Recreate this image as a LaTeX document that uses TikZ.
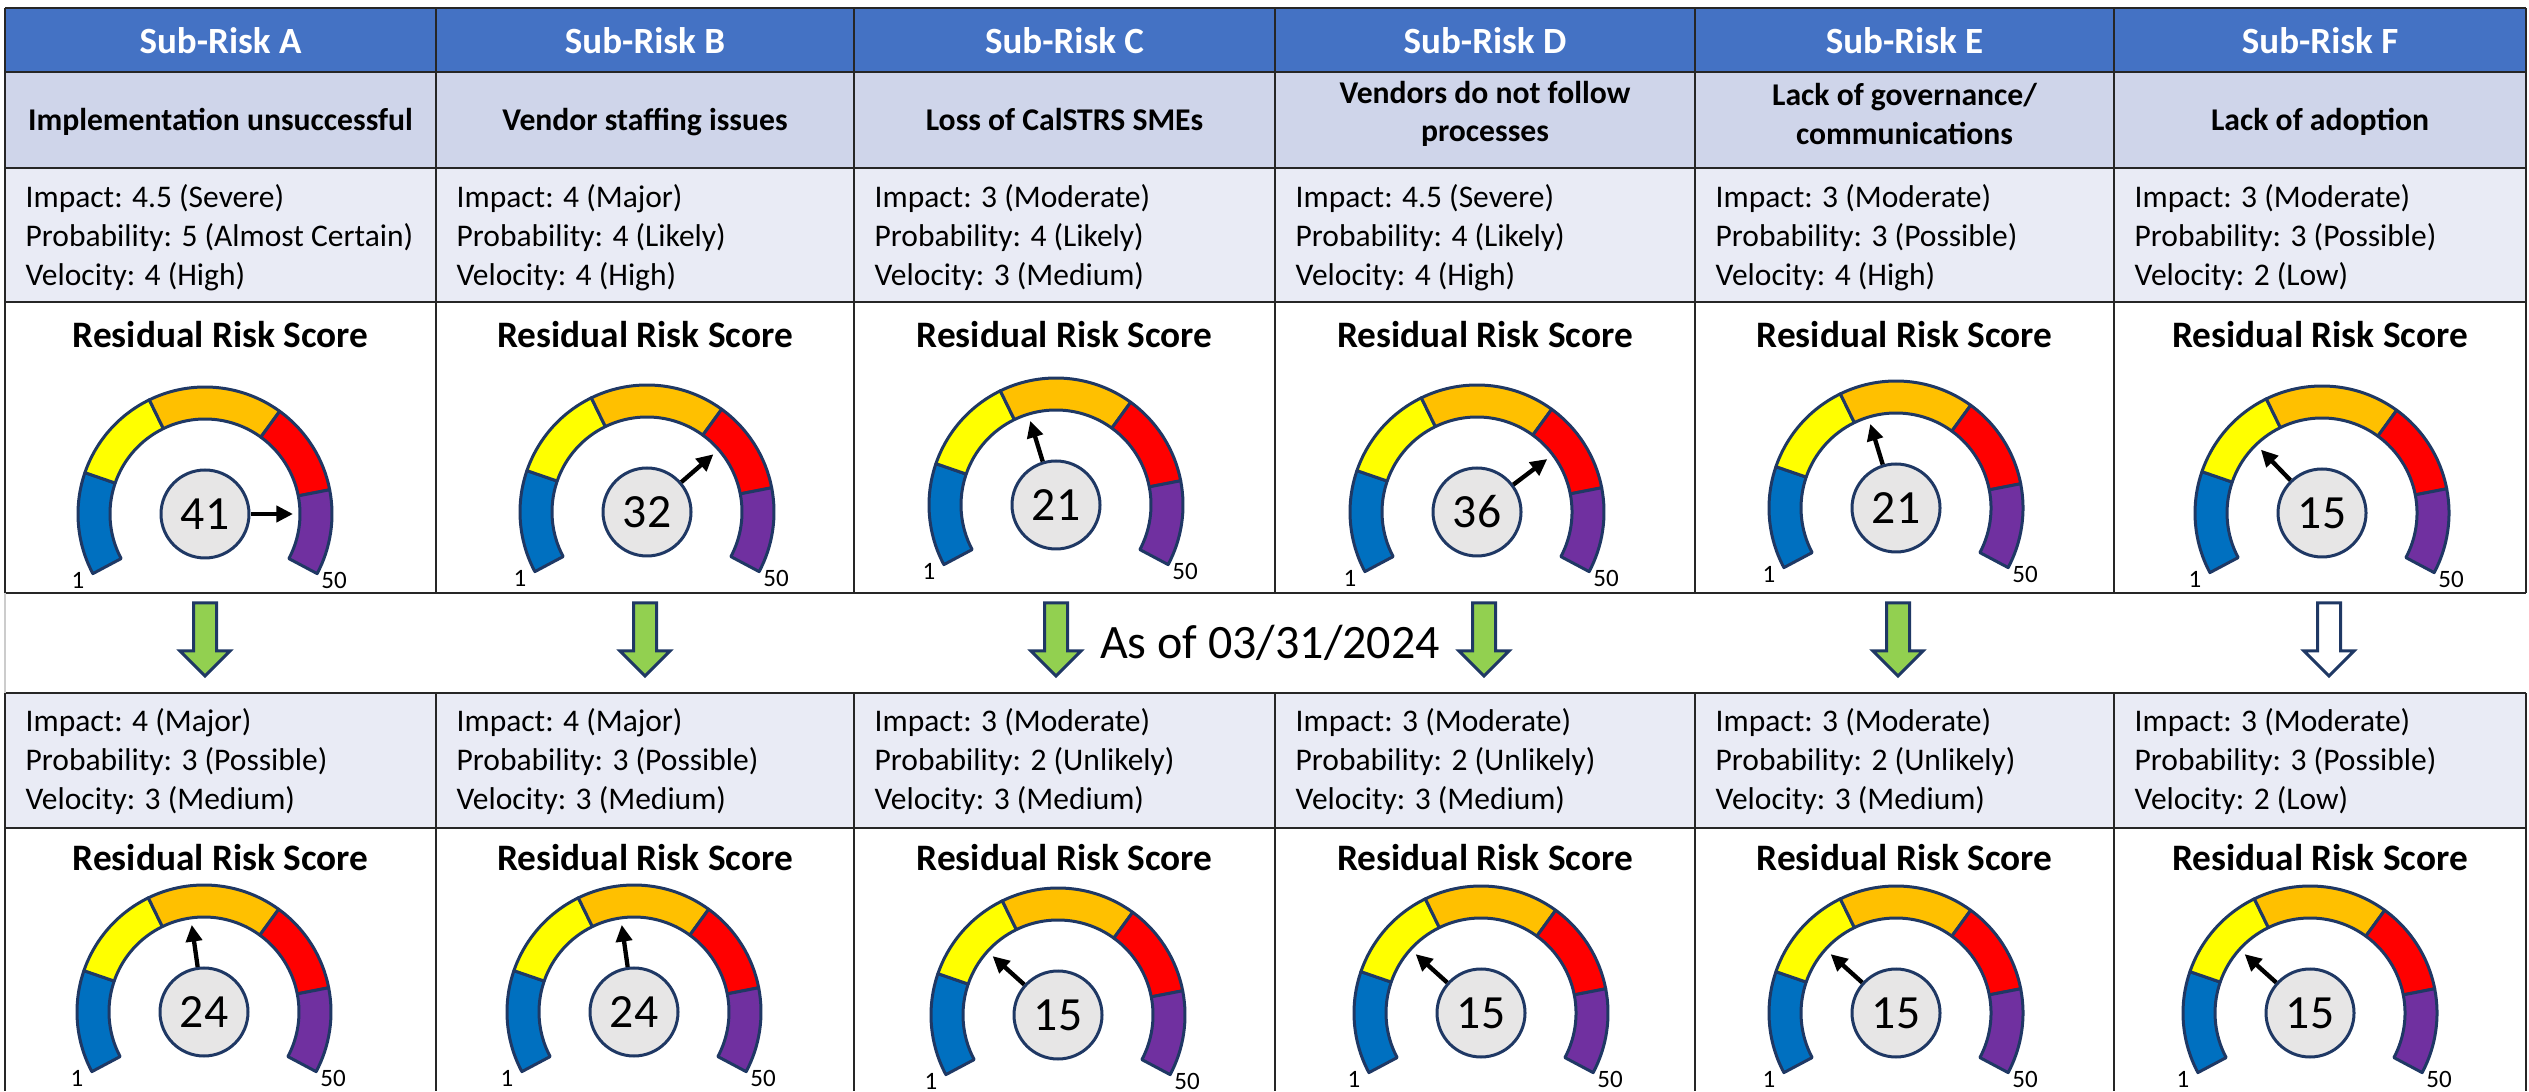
\documentclass[tikz,border=0pt]{standalone}
\usepackage{fontspec}
\setmainfont{Carlito}
\usetikzlibrary{arrows.meta}

\definecolor{hdrblue}{HTML}{4472C4}
\definecolor{subfill}{HTML}{CFD5EA}
\definecolor{infofill}{HTML}{E9EBF5}
\definecolor{gblue}{HTML}{0070C0}
\definecolor{gyellow}{HTML}{FFFF00}
\definecolor{gorange}{HTML}{FFC000}
\definecolor{gred}{HTML}{FF0000}
\definecolor{gpurple}{HTML}{7030A0}
\definecolor{navy}{HTML}{1F3864}
\definecolor{dialgray}{HTML}{E7E6E6}
\definecolor{arrowgreen}{HTML}{92D050}

\tikzset{
  gridline/.style={line width=0.6pt,draw=black!85},
  headtxt/.style={anchor=base,text=white,font=\fontsize{11.1}{13}\selectfont\bfseries,inner sep=0},
  subtxt/.style={align=center,font=\fontsize{9.5}{11.6}\selectfont\bfseries,inner sep=0},
  infotxt/.style={anchor=west,align=left,font=\fontsize{9.45}{11.7}\selectfont,inner sep=0},
  rrstitle/.style={anchor=base,font=\fontsize{11.2}{13}\selectfont\bfseries,inner sep=0},
  scoredial/.style={circle,draw=navy,fill=dialgray,line width=0.9pt,minimum size=26.4pt,inner sep=0,font=\fontsize{14.3}{16}\selectfont},
  endlabel/.style={font=\fontsize{7.5}{9}\selectfont,inner sep=0},
  needle/.style={line width=1.3pt,-{Triangle[length=5pt,width=4.8pt]}},
  ringseg/.style={draw=navy,line width=0.9pt,line join=round},
  bigarrow/.style={draw=navy,line width=0.9pt,line join=miter},
}

% one coloured part of the ring
\newcommand{\ringpart}[3]{\path[ringseg,fill=#1] (#2:127) arc[start angle=#2,end angle=#3,radius=127] -- (#3:95) arc[start angle=#3,end angle=#2,radius=95] -- cycle;}

% name, x, y, score, needle angle
\newcommand{\riskdial}[5]{%
  \begin{scope}[shift={(#2,#3)}]
    \ringpart{gblue}{208}{161}
    \ringpart{gyellow}{161}{116}
    \ringpart{gorange}{116}{54}
    \ringpart{gred}{54}{11}
    \ringpart{gpurple}{11}{-28}
    \node[scoredial] (#1) at (0,0) {#4};
    \coordinate (#1tip) at (#5:88);
    \draw[needle] (#1.#5) -- (#1tip);
    \node[endlabel] (#1lo) at (-127,-66) {1};
    \node[endlabel] (#1hi) at (129,-66) {50};
  \end{scope}}

% x, fill
\newcommand{\stepdown}[2]{\draw[bigarrow,fill=#2] (#1,488) ++(-11.5,0) -- ++(23,0) -- ++(0,-48) -- ++(13.5,0) -- ++(-25,-25) -- ++(-25,25) -- ++(13.5,0) -- cycle;}

\begin{document}
\begin{tikzpicture}[x=0.3pt,y=0.3pt]
    \useasboundingbox (0,0) rectangle (2529,1091);
    % table cells
    \fill[hdrblue] (5,1019) rectangle (2526,1083);
    \fill[subfill] (5,923) rectangle (2526,1019);
    \fill[infofill] (5,789) rectangle (2526,923);
    \fill[infofill] (5,263) rectangle (2526,398);
    \foreach \y in {1083,1019,923,789,498,398,263}
        \draw[gridline] (5,\y) -- (2526,\y);
    \foreach \x in {5,436,854,1275,1695,2114,2526} {
        \draw[gridline] (\x,1083) -- (\x,498);
        \draw[gridline] (\x,398) -- (\x,0);
    }
    \draw[black!20,line width=0.6pt] (5,498) -- (5,398);

    % headers
    \node[headtxt] (hdrA) at (220.5,1037) {Sub-Risk A};
    \node[headtxt] (hdrB) at (645,1037) {Sub-Risk B};
    \node[headtxt] (hdrC) at (1064.5,1037) {Sub-Risk C};
    \node[headtxt] (hdrD) at (1485,1037) {Sub-Risk D};
    \node[headtxt] (hdrE) at (1904.5,1037) {Sub-Risk E};
    \node[headtxt] (hdrF) at (2320,1037) {Sub-Risk F};

    % sub-risk names
    \node[subtxt,anchor=base] (subA) at (220.5,960) {Implementation unsuccessful};
    \node[subtxt,anchor=base] (subB) at (645,960) {Vendor staffing issues};
    \node[subtxt,anchor=base] (subC) at (1064.5,960) {Loss of CalSTRS SMEs};
    \node[subtxt] (subD) at (1485,977) {Vendors do not follow\\processes};
    \node[subtxt] (subE) at (1904.5,977) {Lack of governance/\\communications};
    \node[subtxt,anchor=base] (subF) at (2320,960) {Lack of adoption};

    % first ratings
    \node[infotxt] (infoA) at (25,853) {Impact: 4.5 (Severe)\\Probability: 5 (Almost Certain)\\Velocity: 4 (High)};
    \node[infotxt] (infoB) at (456,853) {Impact: 4 (Major)\\Probability: 4 (Likely)\\Velocity: 4 (High)};
    \node[infotxt] (infoC) at (874,853) {Impact: 3 (Moderate)\\Probability: 4 (Likely)\\Velocity: 3 (Medium)};
    \node[infotxt] (infoD) at (1295,853) {Impact: 4.5 (Severe)\\Probability: 4 (Likely)\\Velocity: 4 (High)};
    \node[infotxt] (infoE) at (1715,853) {Impact: 3 (Moderate)\\Probability: 3 (Possible)\\Velocity: 4 (High)};
    \node[infotxt] (infoF) at (2134,853) {Impact: 3 (Moderate)\\Probability: 3 (Possible)\\Velocity: 2 (Low)};

    % first scores
    \node[rrstitle] (rrsA) at (220.5,743) {Residual Risk Score};
    \node[rrstitle] (rrsB) at (645,743) {Residual Risk Score};
    \node[rrstitle] (rrsC) at (1064.5,743) {Residual Risk Score};
    \node[rrstitle] (rrsD) at (1485,743) {Residual Risk Score};
    \node[rrstitle] (rrsE) at (1904.5,743) {Residual Risk Score};
    \node[rrstitle] (rrsF) at (2320,743) {Residual Risk Score};
    \riskdial{dialA}{205}{577}{41}{0}
    \riskdial{dialB}{647}{579}{32}{41}
    \riskdial{dialC}{1056}{586}{21}{107}
    \riskdial{dialD}{1477}{579}{36}{37}
    \riskdial{dialE}{1896}{583}{21}{107}
    \riskdial{dialF}{2322}{578}{15}{134}

    % step arrows
    \stepdown{205}{arrowgreen}
    \stepdown{645}{arrowgreen}
    \stepdown{1056}{arrowgreen}
    \stepdown{1484}{arrowgreen}
    \stepdown{1898}{arrowgreen}
    \stepdown{2329}{white}
    \node[anchor=base,inner sep=0,font=\fontsize{14.4}{17}\selectfont] (asof) at (1270,432) {As of 03/31/2024};

    % second ratings
    \node[infotxt] (infoA2) at (25,329) {Impact: 4 (Major)\\Probability: 3 (Possible)\\Velocity: 3 (Medium)};
    \node[infotxt] (infoB2) at (456,329) {Impact: 4 (Major)\\Probability: 3 (Possible)\\Velocity: 3 (Medium)};
    \node[infotxt] (infoC2) at (874,329) {Impact: 3 (Moderate)\\Probability: 2 (Unlikely)\\Velocity: 3 (Medium)};
    \node[infotxt] (infoD2) at (1295,329) {Impact: 3 (Moderate)\\Probability: 2 (Unlikely)\\Velocity: 3 (Medium)};
    \node[infotxt] (infoE2) at (1715,329) {Impact: 3 (Moderate)\\Probability: 2 (Unlikely)\\Velocity: 3 (Medium)};
    \node[infotxt] (infoF2) at (2134,329) {Impact: 3 (Moderate)\\Probability: 3 (Possible)\\Velocity: 2 (Low)};

    % second scores
    \node[rrstitle] (rrsA2) at (220.5,220) {Residual Risk Score};
    \node[rrstitle] (rrsB2) at (645,220) {Residual Risk Score};
    \node[rrstitle] (rrsC2) at (1064.5,220) {Residual Risk Score};
    \node[rrstitle] (rrsD2) at (1485,220) {Residual Risk Score};
    \node[rrstitle] (rrsE2) at (1904.5,220) {Residual Risk Score};
    \node[rrstitle] (rrsF2) at (2320,220) {Residual Risk Score};
    \riskdial{dialA2}{204}{79}{24}{98}
    \riskdial{dialB2}{634}{79}{24}{98}
    \riskdial{dialC2}{1058}{76}{15}{138}
    \riskdial{dialD2}{1481}{78}{15}{138}
    \riskdial{dialE2}{1896}{78}{15}{138}
    \riskdial{dialF2}{2310}{78}{15}{138}
\end{tikzpicture}
\end{document}
